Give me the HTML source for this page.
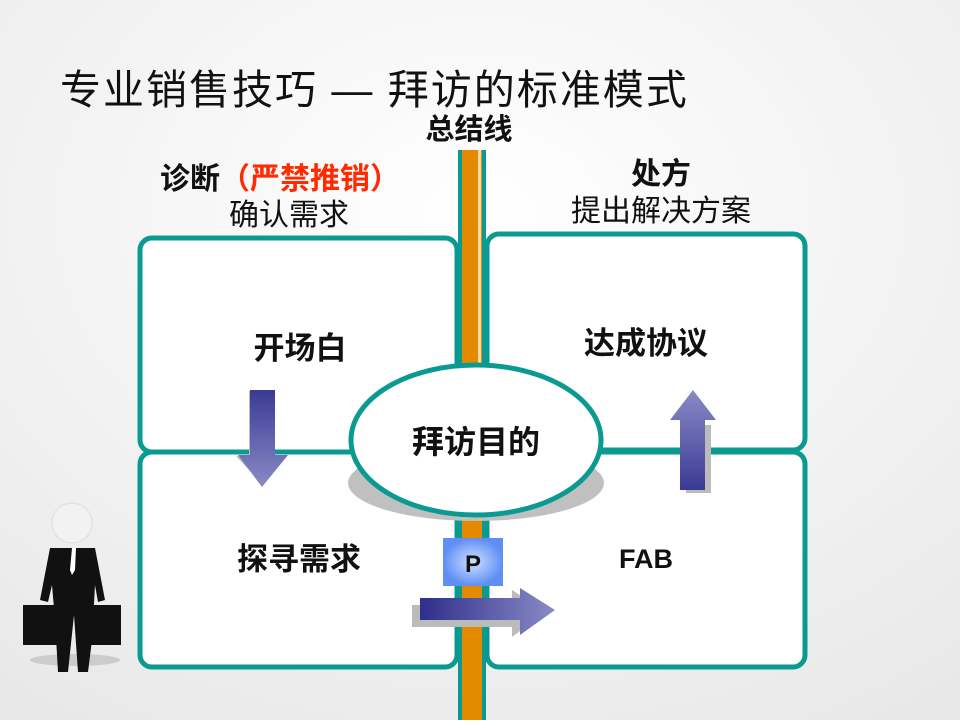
<!DOCTYPE html>
<html><head><meta charset="utf-8"><style>
body{margin:0;width:960px;height:720px;overflow:hidden;background:#fff;font-family:"Liberation Sans","Noto Sans CJK SC",sans-serif}
</style></head><body>
<svg width="960" height="720" xmlns="http://www.w3.org/2000/svg" style="font-family:'Liberation Sans','Noto Sans CJK SC',sans-serif">
<defs>
<radialGradient id="bg" cx="0.5" cy="0.3" r="0.9"><stop offset="0" stop-color="#ffffff"/><stop offset="1" stop-color="#e6e6e6"/></radialGradient>
<linearGradient id="ah" x1="0" x2="1"><stop offset="0" stop-color="#2e2e8c"/><stop offset="1" stop-color="#8a8ac6"/></linearGradient>
<linearGradient id="av" x1="0" y1="0" x2="0" y2="1"><stop offset="0" stop-color="#8a8ac6"/><stop offset="1" stop-color="#3a3a96"/></linearGradient>
<linearGradient id="ad" x1="0" y1="0" x2="0" y2="1"><stop offset="0" stop-color="#3a3a96"/><stop offset="1" stop-color="#8a8ac6"/></linearGradient>
<radialGradient id="pg"><stop offset="0" stop-color="#cfe0ff"/><stop offset="1" stop-color="#5f8ff5"/></radialGradient>
</defs>
<rect width="960" height="720" fill="url(#bg)"/>
<text x="60" y="104" font-size="41" letter-spacing="2" fill="#111">专业销售技巧 — 拜访的标准模式</text>
<text x="469" y="139" font-size="29" font-weight="bold" text-anchor="middle" fill="#111">总结线</text>
<text x="160" y="189" font-size="30" font-weight="bold" fill="#111">诊断<tspan fill="#ff2a00">（严禁推销）</tspan></text>
<text x="289" y="225" font-size="30" text-anchor="middle" fill="#111">确认需求</text>
<text x="661" y="184" font-size="30" font-weight="bold" text-anchor="middle" fill="#111">处方</text>
<text x="661" y="221" font-size="30" text-anchor="middle" fill="#111">提出解决方案</text>
<!-- bar -->
<rect x="458" y="150" width="28" height="570" fill="#0a9a92"/>
<rect x="462" y="150" width="20" height="570" fill="#e38a00"/>
<rect x="478" y="150" width="3" height="570" fill="#fff" opacity="0.7"/>
<!-- boxes -->
<g fill="#fff" stroke="#0a9a92" stroke-width="5">
<rect x="140" y="238" width="317" height="214" rx="12"/>
<rect x="140" y="452" width="317" height="215" rx="12"/>
<rect x="487" y="234" width="318" height="216" rx="12"/>
<rect x="487" y="452" width="318" height="215" rx="12"/>
</g>
<rect x="461" y="380" width="22" height="340" fill="#e38a00"/>
<rect x="458" y="380" width="4" height="340" fill="#0a9a92"/>
<rect x="482" y="380" width="4" height="340" fill="#0a9a92"/>
<text x="300" y="359" font-size="31" font-weight="bold" text-anchor="middle" fill="#111">开场白</text>
<text x="646" y="354" font-size="31" font-weight="bold" text-anchor="middle" fill="#111">达成协议</text>
<text x="299" y="570" font-size="31" font-weight="bold" text-anchor="middle" fill="#111">探寻需求</text>
<text x="646" y="568" font-size="27" font-weight="bold" text-anchor="middle" fill="#111">FAB</text>
<!-- ellipse -->
<ellipse cx="476" cy="483" rx="128" ry="38" fill="#c0c0c0"/>
<ellipse cx="476" cy="440" rx="125" ry="75" fill="#fff" stroke="#0a9a92" stroke-width="5"/>
<text x="476" y="453" font-size="32" font-weight="bold" text-anchor="middle" fill="#111">拜访目的</text>
<!-- down arrow -->
<polygon points="255,395 280,395 280,460 292,460 267,487 242,460 255,460" fill="#bbb" transform="translate(-6,-4)"/>
<polygon points="250,390 275,390 275,455 288,455 262,487 238,455 250,455" fill="url(#ad)"/>
<!-- up arrow -->
<polygon points="686,425 711,425 711,493 686,493" fill="#bbb"/>
<polygon points="680,420 705,420 705,490 680,490 680,420 670,420 693,390 716,420 705,420" fill="url(#av)"/>
<!-- right arrow -->
<polygon points="412,605 512,605 512,590 546,612 512,637 512,627 412,627" fill="#bbb"/>
<polygon points="420,598 520,598 520,588 555,610 520,635 520,620 420,620" fill="url(#ah)"/>
<!-- P box -->
<rect x="443" y="538" width="60" height="48" fill="url(#pg)"/>
<text x="473" y="572" font-size="24" font-weight="bold" text-anchor="middle" fill="#111">P</text>
<!-- figure -->
<ellipse cx="75" cy="660" rx="45" ry="6" fill="#ccc"/>
<circle cx="72" cy="523" r="20" fill="#f2f2f2" stroke="#ddd"/>
<path d="M50,548 L95,548 L105,600 L98,602 L95,585 L92,640 L88,672 L78,672 L74,615 L68,672 L58,672 L55,620 L52,585 L48,602 L40,600 Z" fill="#111"/>
<polygon points="72,548 76,548 75,570 72,575 70,570" fill="#fff"/>
<rect x="23" y="605" width="36" height="40" fill="#111"/>
<rect x="87" y="605" width="34" height="40" fill="#111"/>
</svg>
</body></html>
